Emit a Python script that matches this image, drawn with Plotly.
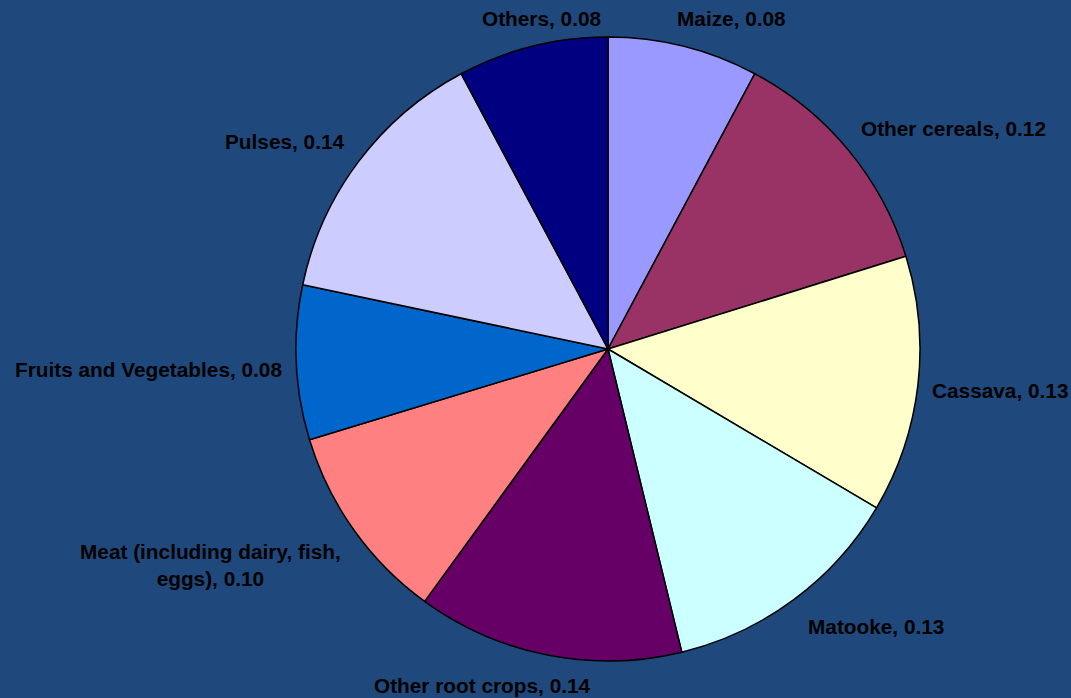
import math
import textwrap
import plotly.graph_objects as go

# ---- data ----
categories = ["Maize", "Other cereals", "Cassava", "Matooke", "Other root crops",
              "Meat (including dairy, fish, eggs)", "Fruits and Vegetables", "Pulses", "Others"]
shares = [0.078, 0.124, 0.133, 0.127, 0.138, 0.103, 0.080, 0.139, 0.078]

# ---- style ----
colors = ["#9999FF", "#993366", "#FFFFCC", "#CCFFFF", "#660066",
          "#FF8080", "#0066CC", "#CCCCFF", "#000080"]
W, H = 1071, 698
CX, CY, R = 608, 349, 312
LABEL_K = 1.1
FONT_SIZE = 20.8
# small pixel nudges for label placement (layout only)
nudges = [(-16, 2), (-13, -2), (-19, 2), (-6, 2), (-59, 0), (15, 17), (19, 5), (13, -1), (78, 2)]

fig = go.Figure(go.Pie(
    labels=categories,
    values=shares,
    sort=False,
    direction="clockwise",
    rotation=0,
    marker=dict(colors=colors, line=dict(color="black", width=1.5)),
    textinfo="none",
    hoverinfo="label+value",
    showlegend=False,
    domain=dict(x=[(CX - R) / W, (CX + R) / W], y=[(H - CY - R) / H, (H - CY + R) / H]),
))

total = sum(shares)
cum = 0.0
annotations = []
for name, v, (nx, ny) in zip(categories, shares, nudges):
    mid = (cum + v / 2) / total * 2 * math.pi
    cum += v
    s, c = math.sin(mid), math.cos(mid)
    px = CX + R * LABEL_K * s + nx
    py = CY - R * LABEL_K * c + ny
    if abs(s) < 0.3 and c < 0:
        xa = "center"
    elif s >= 0:
        xa = "left"
    else:
        xa = "right"
    txt = f"{name}, {v:.2f}"
    if len(txt) > 32:
        txt = "<br>".join(textwrap.wrap(txt, 29))
    annotations.append(dict(
        x=px / W, y=1 - py / H, xref="paper", yref="paper",
        xanchor=xa, yanchor="middle", align="center",
        text=f"<b>{txt}</b>", showarrow=False,
        font=dict(family="Arial, Liberation Sans, sans-serif", size=FONT_SIZE, color="black"),
    ))

fig.update_layout(
    width=W, height=H,
    margin=dict(l=0, r=0, t=0, b=0),
    paper_bgcolor="#1F497D",
    plot_bgcolor="#1F497D",
    annotations=annotations,
)

fig.write_html("out.html", config={"displayModeBar": False})

# remove default page margin so the figure fills the window
with open("out.html", "r", encoding="utf-8") as f:
    html = f.read()
html = html.replace("<head>", "<head><style>html,body{margin:0;padding:0;background:#1F497D;overflow:hidden;}</style>", 1)
with open("out.html", "w", encoding="utf-8") as f:
    f.write(html)
